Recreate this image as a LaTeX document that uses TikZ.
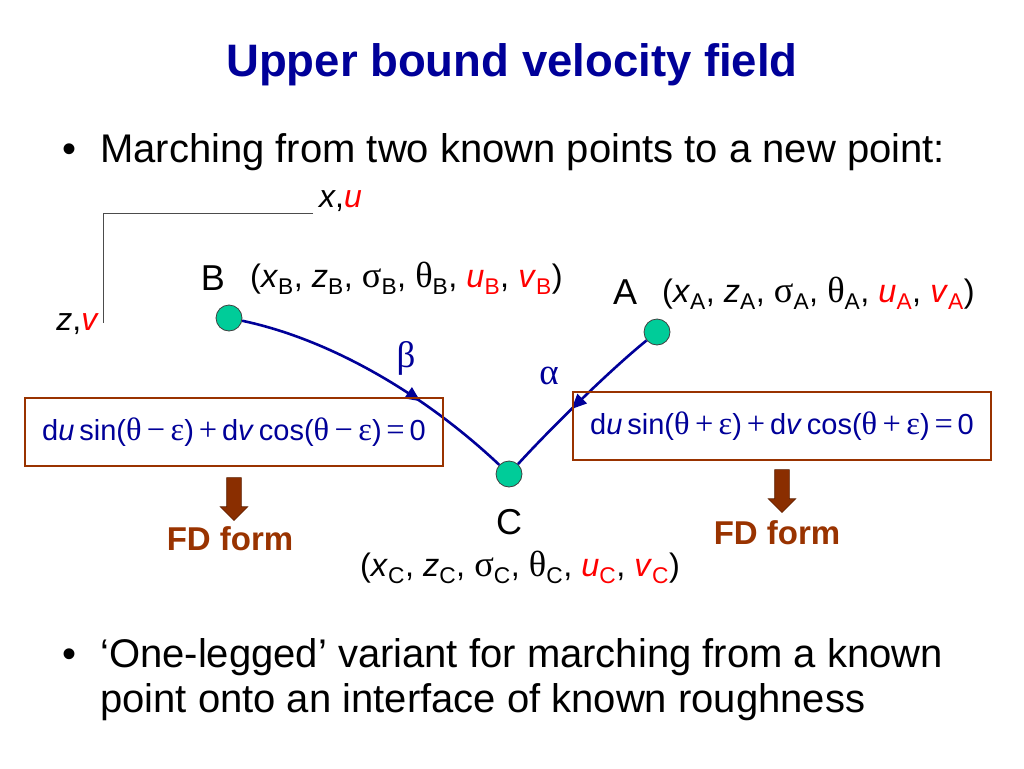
\documentclass[tikz,border=0pt]{standalone}
\usepackage{fontspec}
\setmainfont{Liberation Sans}
\newfontfamily\grkfont[Scale=1.12]{Liberation Serif}
\usepackage{xcolor}
\usetikzlibrary{positioning,shapes.arrows,arrows.meta,decorations.markings}

\definecolor{navy}{RGB}{0,0,153}
\definecolor{dotgreen}{RGB}{0,204,153}
\definecolor{boxbrown}{RGB}{153,51,0}

\newcommand{\gk}[1]{{\grkfont #1}}
\newcommand{\sbs}[1]{\textsubscript{#1}}
\newcommand{\pointdata}[1]{(\textit{x}\sbs{#1}, \textit{z}\sbs{#1}, \gk{σ}\sbs{#1}, \gk{θ}\sbs{#1}, \textcolor{red}{\textit{u}\sbs{#1}}, \textcolor{red}{\textit{v}\sbs{#1}})}
\newcommand{\charline}[1]{d\textit{u}\,sin(\gk{θ\,#1\,ε})\,\gk{+}\,d\textit{v}\,cos(\gk{θ\,#1\,ε})\,\gk{=}\,0}

\tikzset{midarrow/.style={postaction={decorate}, decoration={markings, mark=at position #1 with {\arrow{Triangle[length=15pt,width=13pt]}}}}}

\begin{document}
\begin{tikzpicture}[x=1pt,y=-1pt]
\tikzstyle{title} = [text=navy, font=\fontsize{45.5}{50}\selectfont\bfseries]
\tikzstyle{body} = [inner sep=0pt, font=\fontsize{40}{45}\selectfont]
\tikzstyle{axislabel} = [inner sep=0pt, font=\fontsize{32}{36}\selectfont]
\tikzstyle{ptlabel} = [inner sep=0pt, font=\fontsize{36}{40}\selectfont]
\tikzstyle{ptdata} = [inner sep=0pt, font=\fontsize{32.5}{36}\selectfont]
\tikzstyle{dot} = [circle, fill=dotgreen, draw=black!75, line width=0.8pt, minimum size=26pt, inner sep=0pt]
\tikzstyle{chline} = [navy, line width=2.6pt]
\tikzstyle{greek} = [text=navy, font=\fontsize{33}{40}\selectfont\grkfont]
\tikzstyle{eqbox} = [draw=boxbrown, line width=2.5pt, minimum width=418pt, minimum height=68pt, text=navy, font=\fontsize{29}{34}\selectfont]
\tikzstyle{fdarrow} = [single arrow, shape border rotate=270, fill=boxbrown!90!black, draw=boxbrown!60!black, line width=0.6pt, minimum height=43pt, minimum width=27pt, inner sep=7pt, single arrow head extend=6.5pt, single arrow head indent=0pt]
\tikzstyle{fdlabel} = [text=boxbrown, font=\fontsize{33}{40}\selectfont\bfseries]

	\path[fill=white] (0,0) rectangle (1024,768);
	\useasboundingbox (0,0) rectangle (1024,768);

	\node[title] (title) at (512,65) {Upper bound velocity field};
	\node[body, anchor=base west] (bul1) at (62,162) {•};
	\node[body, anchor=base west] (line1) at (100,162) {Marching from two known points to a new point:};

	% axes
	\coordinate (xend) at (313,213);
	\coordinate (zend) at (103,323);
	\draw[black!70, line width=1pt] (xend) -| (zend);
	\node[axislabel, anchor=base west] (xlab) at (319,207) {\textit{x},\textcolor{red}{\textit{u}}};
	\node[axislabel, anchor=base east] (zlab) at (99,330) {\textit{z},\textcolor{red}{\textit{v}}};

	% known points and the new one
	\node[dot] (B) at (229,318) {};
	\node[dot] (A) at (657,332) {};
	\node[dot] (C) at (509,474) {};
	\node[ptlabel, anchor=base] (Blab) at (213,290) {B};
	\node[ptlabel, anchor=base] (Alab) at (625,304) {A};
	\node[ptlabel, anchor=base] (Clab) at (509,534) {C};
	\node[ptdata, anchor=base west] (Bdata) at (250,287) {\pointdata{B}};
	\node[ptdata, anchor=base west] (Adata) at (662,302) {\pointdata{A}};
	\node[ptdata, anchor=base] (Cdata) at (520,576) {\pointdata{C}};

	\draw[chline, midarrow=0.66] (B) .. controls (329,339) and (423,393) .. (C);
	\draw[chline, midarrow=0.57] (A) .. controls (610,370) and (549,430) .. (C);
	\node[greek] (beta) at (406,358) {β};
	\node[greek] (alpha) at (549,376) {α};

	% characteristic equations
	\node[eqbox] (leftbox) at (234,432) {\charline{−}};
	\node[eqbox] (rightbox) at (782,426) {\charline{+}};
	\node[fdarrow, below=10pt of leftbox] (leftarr) {};
	\node[fdarrow, below=8pt of rightbox] (rightarr) {};
	\node[fdlabel, below=2pt of leftarr, xshift=-4pt] (leftfd) {FD form};
	\node[fdlabel, below=4pt of rightarr, xshift=-5pt] (rightfd) {FD form};

	\node[body, anchor=base west] (bul2) at (62,667) {•};
	\node[body, anchor=base west, align=left] (line2) at (100,712) {‘One-legged’ variant for marching from a known\\point onto an interface of known roughness};
\end{tikzpicture}
\end{document}
